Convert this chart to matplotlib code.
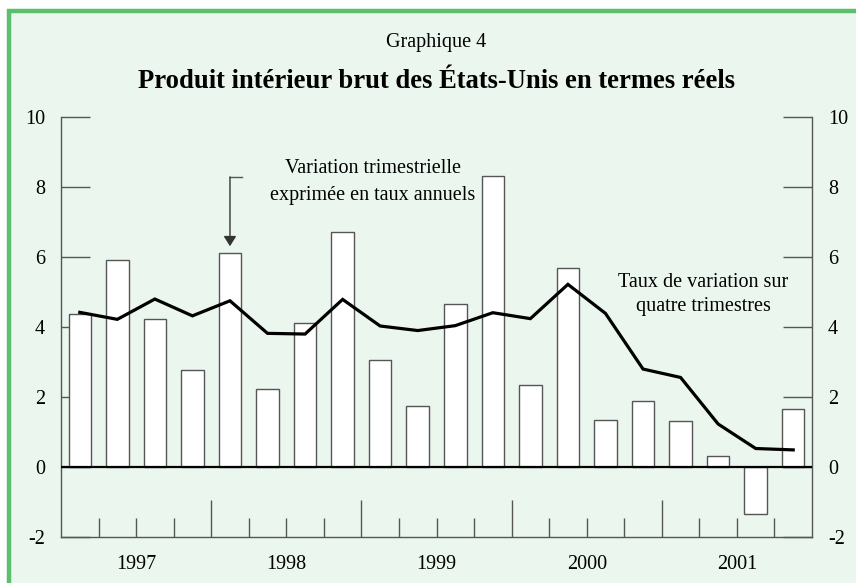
#!/usr/bin/env python3
import numpy as np
import matplotlib
matplotlib.use('Agg')
import matplotlib.pyplot as plt
from matplotlib.patches import Rectangle
from matplotlib.transforms import blended_transform_factory

# quarterly data, 1997Q1 .. 2001Q4
years = ['1997', '1998', '1999', '2000', '2001']
quarterly = [4.36, 5.90, 4.23, 2.76,
             6.11, 2.23, 4.11, 6.70,
             3.06, 1.73, 4.65, 8.31,
             2.34, 5.69, 1.33, 1.89,
             1.31, 0.31, -1.34, 1.64]
four_q = [4.41, 4.21, 4.79, 4.31,
          4.74, 3.81, 3.79, 4.78,
          4.02, 3.89, 4.03, 4.40,
          4.23, 5.21, 4.38, 2.79,
          2.55, 1.22, 0.52, 0.48]
yticks = [-2, 0, 2, 4, 6, 8, 10]

GREY = '#555555'
BG = '#ebf6ee'
BORDER = '#5cbf6e'
FS = 14.5


def main():
    plt.rcParams['font.family'] = ['Liberation Serif', 'DejaVu Serif']

    fig = plt.figure(figsize=(8.56, 5.83), dpi=100)
    fig.patch.set_facecolor('white')

    # green frame, cut off at the right and bottom
    frame = Rectangle((8.5 / 856, 1 - 10.5 / 583), 2.0, -2.0,
                      transform=fig.transFigure, facecolor=BG,
                      edgecolor=BORDER, lw=3.2, zorder=-10)
    fig.patches.append(frame)

    ax = fig.add_axes([61 / 856, 46.3 / 583, 751 / 856, 420 / 583])
    ax.set_facecolor('none')

    n = len(quarterly)
    x = np.arange(n)

    ax.bar(x, quarterly, width=0.6, color='white', edgecolor=GREY,
           lw=1.0, zorder=2)
    ax.axhline(0, color='black', lw=1.6, zorder=3)
    ax.plot(x, four_q, color='black', lw=2.3, zorder=4,
            solid_joinstyle='miter')

    ax.set_xlim(-0.5, n - 0.5)
    ax.set_ylim(-2, 10)

    for side in ['left', 'right', 'bottom']:
        ax.spines[side].set_color(GREY)
        ax.spines[side].set_linewidth(1.0)
    ax.spines['top'].set_visible(False)

    ax.set_yticks(yticks)
    ax.set_yticklabels([str(v) for v in yticks])
    ax.tick_params(axis='y', direction='in', length=21, width=1.0,
                   color=GREY, left=True, right=True,
                   labelleft=True, labelright=True, pad=11.5,
                   labelsize=FS)

    year_edges = [4 * i - 0.5 for i in range(1, len(years))]
    quarter_edges = [q - 0.5 for q in range(1, n) if q % 4 != 0]
    ax.set_xticks(year_edges)
    ax.set_xticks(quarter_edges, minor=True)
    ax.set_xticklabels([])
    ax.tick_params(axis='x', which='major', direction='in', length=27,
                   width=1.0, color=GREY)
    ax.tick_params(axis='x', which='minor', direction='in', length=13.7,
                   width=1.0, color=GREY)

    trans = blended_transform_factory(ax.transData, ax.transAxes)
    for i, yr in enumerate(years):
        ax.text(4 * i + 1.5, -0.066, yr, transform=trans, ha='center',
                va='center', fontsize=FS)

    # annotations
    ax.text(7.8, 8.13, 'Variation trimestrielle\nexprimée en taux annuels',
            ha='center', va='center', fontsize=FS, linespacing=1.55)
    ax.plot([4.0, 4.33], [8.28, 8.28], color=GREY, lw=1.0)
    ax.annotate('', xy=(4.0, 6.3), xytext=(4.0, 8.28),
                arrowprops=dict(arrowstyle='-|>,head_length=0.6,head_width=0.38',
                                color='#333333', lw=1.0,
                                shrinkA=0, shrinkB=0))
    ax.text(16.6, 4.92, 'Taux de variation sur\nquatre trimestres',
            ha='center', va='center', fontsize=FS, linespacing=1.38)

    # titles
    fig.text(436 / 856, 1 - 42 / 583, 'Graphique 4', ha='center',
             va='center', fontsize=FS)
    fig.text(436 / 856, 1 - 82 / 583,
             'Produit intérieur brut des États-Unis en termes réels',
             ha='center', va='center', fontsize=19.2, fontweight='bold')

    fig.savefig('out.png', dpi=100)


if __name__ == '__main__':
    main()
